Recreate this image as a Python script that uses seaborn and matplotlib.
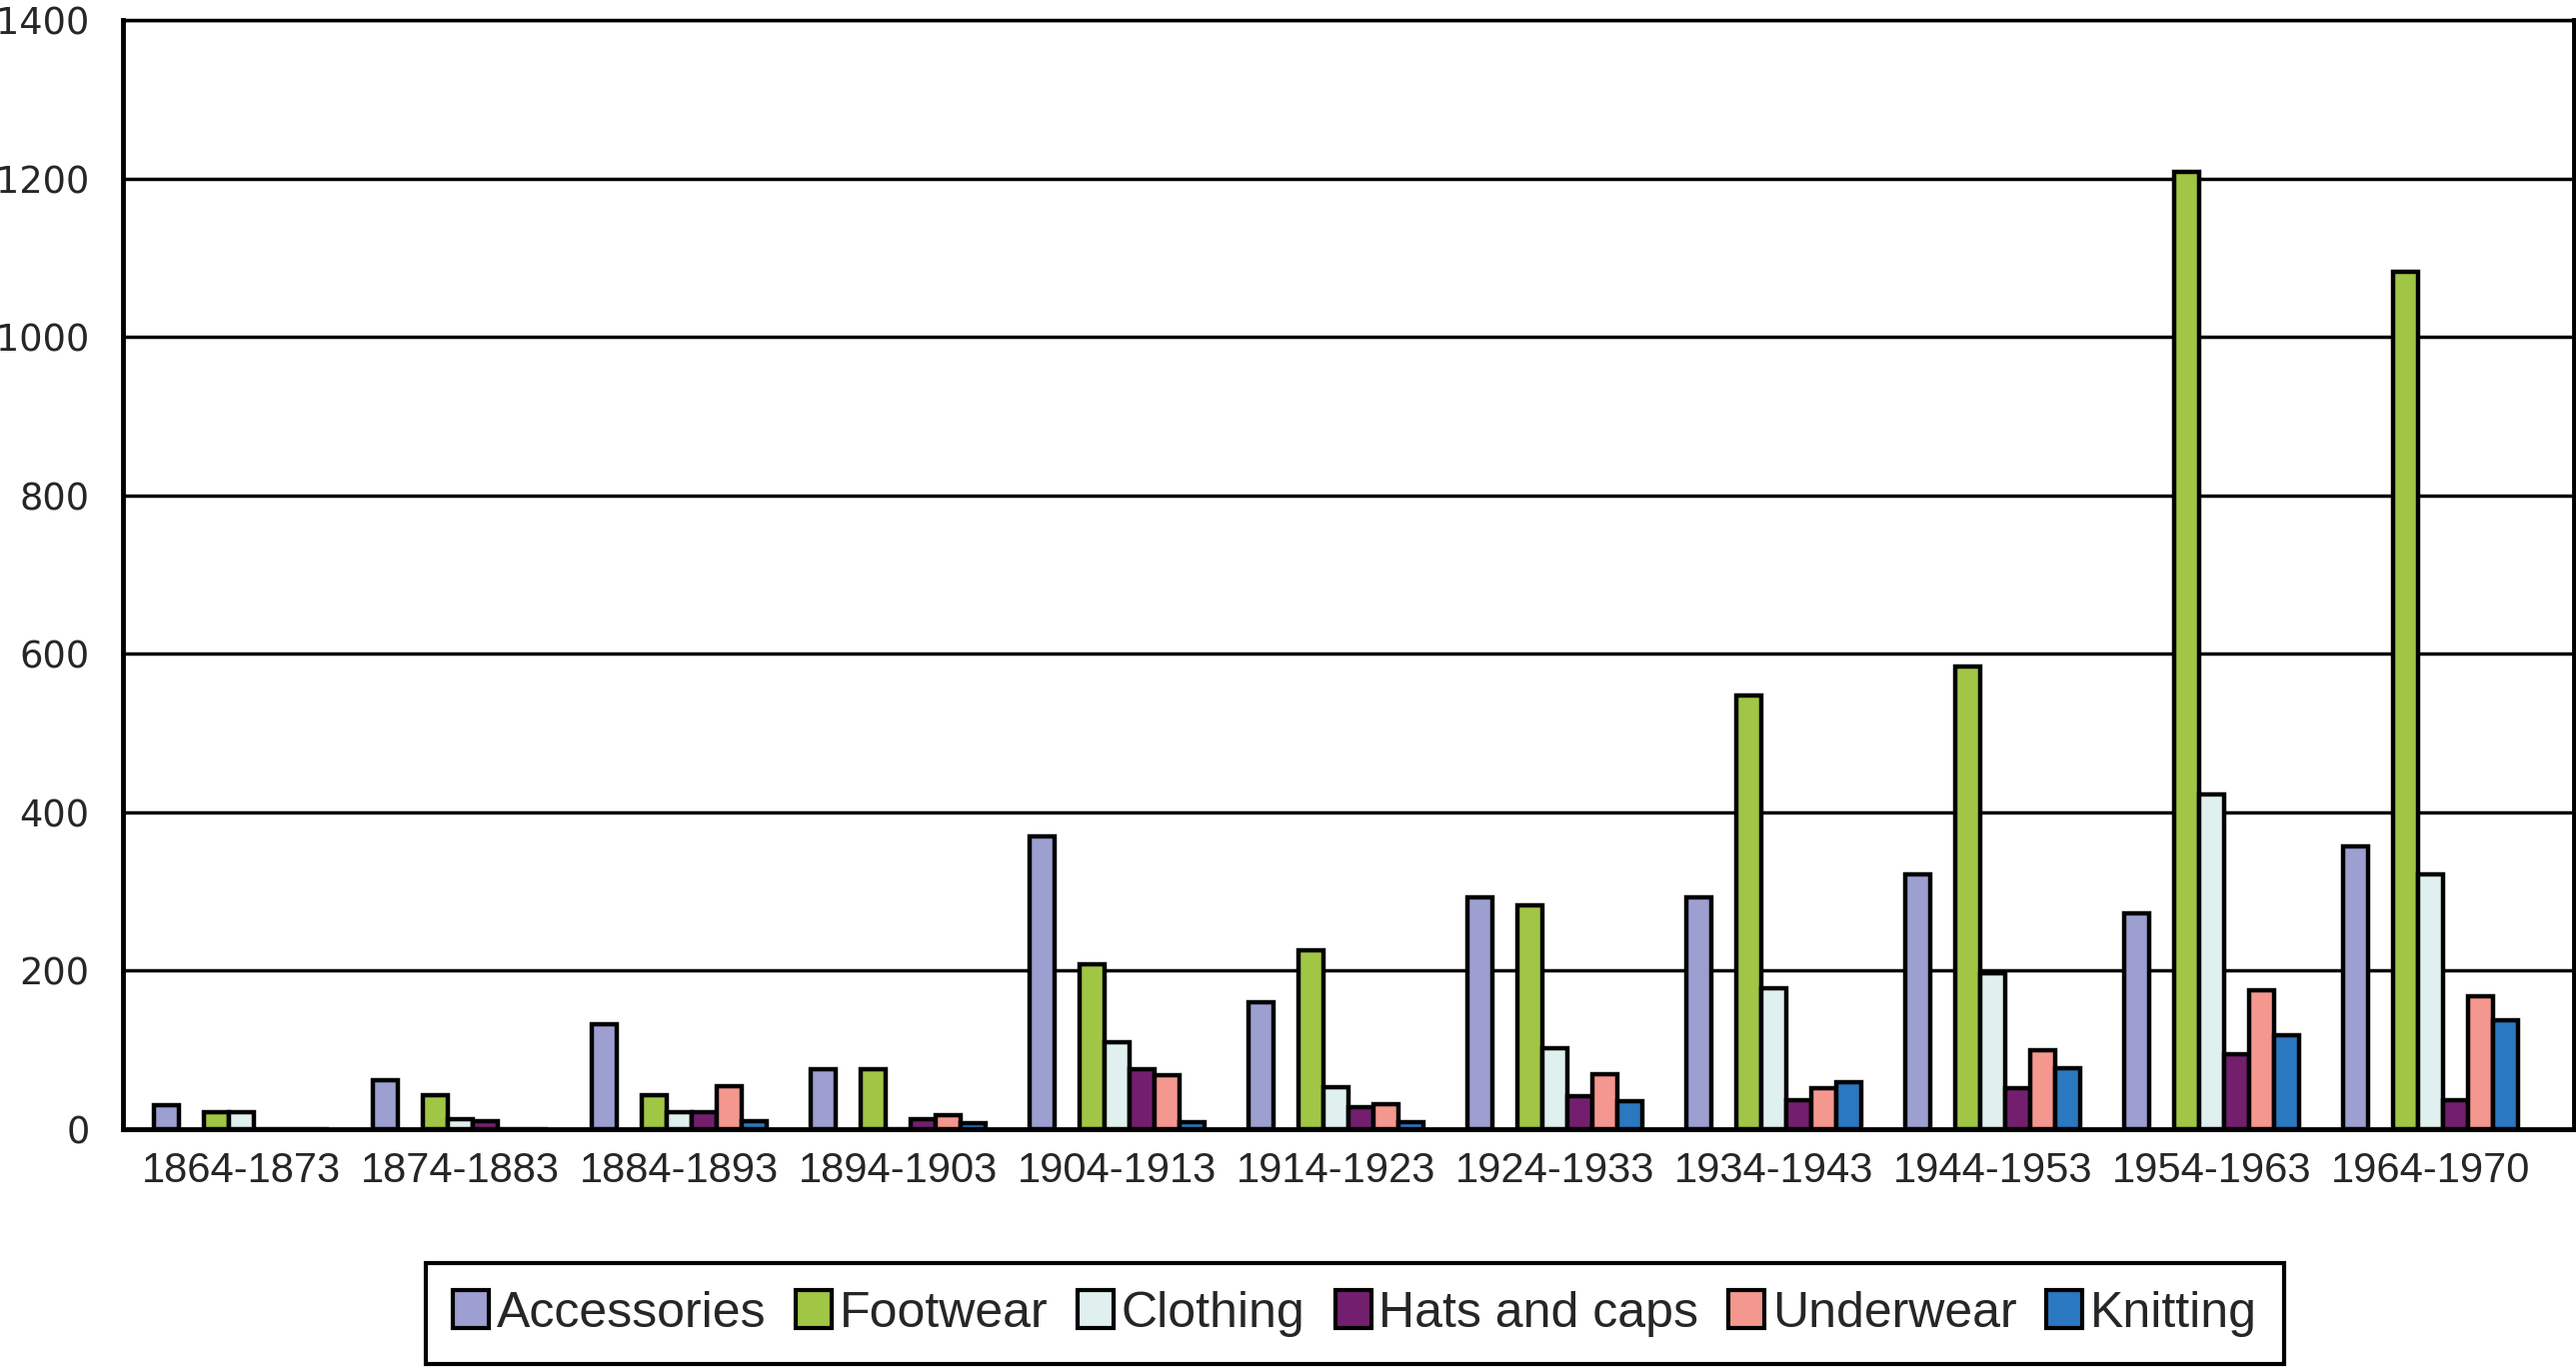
import matplotlib

matplotlib.use("Agg")
import matplotlib.pyplot as plt
from matplotlib.patches import Patch
import pandas as pd
import seaborn as sns

periods = ["1864-1873", "1874-1883", "1884-1893", "1894-1903", "1904-1913", "1914-1923",
           "1924-1933", "1934-1943", "1944-1953", "1954-1963", "1964-1970"]
accessories = [30, 62, 132, 76, 370, 160, 293, 293, 322, 273, 357]
footwear = [22, 43, 43, 76, 208, 226, 283, 547, 584, 1208, 1082]
clothing = [22, 12, 22, 0, 110, 53, 102, 178, 197, 422, 322]
hats = [0, 10, 22, 12, 76, 28, 41, 37, 52, 94, 36]
underwear = [0, 0, 54, 18, 68, 32, 69, 52, 100, 175, 168]
knitting = [0, 0, 10, 8, 9, 9, 35, 59, 77, 119, 137]

series_names = ["Accessories", "Footwear", "Clothing", "Hats and caps", "Underwear", "Knitting"]
colors = ["#9c9fd0", "#a1c545", "#dff0ee", "#731f6e", "#f4978f", "#2a78c0"]

sns.set_theme(style="white")
plt.rcParams["font.family"] = ["Liberation Sans", "DejaVu Sans"]

rows = []
for name, vals in zip(series_names, [accessories, footwear, clothing, hats, underwear, knitting]):
    for p, v in zip(periods, vals):
        rows.append({"period": p, "type": name, "count": v})
df = pd.DataFrame(rows)

# the source chart leaves an empty slot between accessories and footwear
GAP = " "
hue_order = [series_names[0], GAP] + series_names[1:]
palette = dict(zip(series_names, colors))
palette[GAP] = "white"

fig = plt.figure(figsize=(25.77, 13.72), dpi=100)
ax = fig.add_axes([0.0477, 0.1764, 0.9515, 0.809])
sns.barplot(data=df, x="period", y="count", hue="type", hue_order=hue_order, order=periods,
            palette=palette, width=0.8, edgecolor="black", linewidth=3.2, saturation=1,
            errorbar=None, legend=False, ax=ax)

ax.set_xlim(-0.54, 10.655)
ax.set_ylim(0, 1400)
ax.set_yticks(range(0, 1401, 200))
ax.set_xlabel("")
ax.set_ylabel("")
ax.set_axisbelow(True)
ax.grid(axis="y", color="black", linewidth=2.5)
ax.grid(axis="x", visible=False)
for side in ["left", "bottom", "right"]:
    ax.spines[side].set_color("black")
    ax.spines[side].set_linewidth(3.5)
ax.spines["top"].set_color("black")
ax.spines["top"].set_linewidth(2.5)
ax.tick_params(axis="y", direction="out", length=18, width=2.5, color="black", labelsize=26.5, pad=6)
ax.tick_params(axis="x", length=0, labelsize=30, pad=16)
for lbl in ax.get_yticklabels():
    lbl.set_family("DejaVu Sans")

handles = [Patch(facecolor=c, edgecolor="black", linewidth=3, label=n) for n, c in zip(series_names, colors)]
leg = fig.legend(handles=handles, loc="center", bbox_to_anchor=(0.526, 0.042), ncol=6, fontsize=36,
                 frameon=True, fancybox=False, edgecolor="black", framealpha=1,
                 handlelength=0.72, handleheight=0.8, handletextpad=0.15, columnspacing=0.6,
                 borderpad=0.55)
leg.get_frame().set_linewidth(3)

fig.savefig("out.png", dpi=100)
